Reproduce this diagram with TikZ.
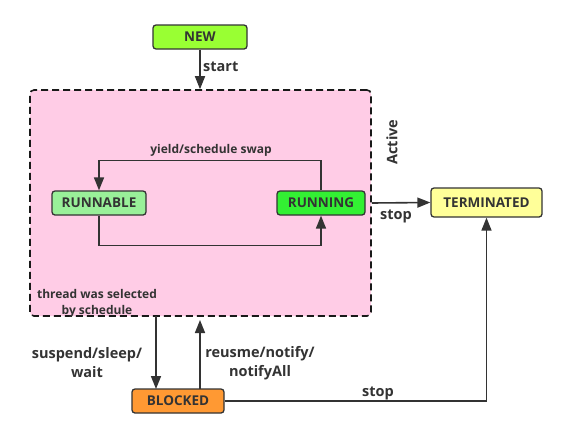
\documentclass[tikz,border=0pt]{standalone}
\usepackage{fontspec}
\setmainfont{Open Sans}
\usetikzlibrary{arrows.meta}
\definecolor{txt}{HTML}{333333}
\definecolor{newc}{HTML}{99FF33}
\definecolor{runnablec}{HTML}{99F099}
\definecolor{runningc}{HTML}{33F033}
\definecolor{termc}{HTML}{FFFF99}
\definecolor{blockc}{HTML}{FF9933}
\definecolor{pinkc}{HTML}{FFCCE6}
\tikzset{
  state/.style={draw=txt, line width=1.3pt, rounded corners=3pt, text=txt,
    font=\fontsize{13.5}{15}\selectfont\bfseries, inner sep=0pt, minimum height=24pt},
  arr/.style={draw=txt, line width=1.6pt, -{Triangle[length=13pt,width=10pt]}},
  lbl/.style={text=txt, font=\fontsize{14.5}{19}\selectfont\bfseries, inner sep=0pt, align=center},
  slbl/.style={text=txt, font=\fontsize{12}{16}\selectfont\bfseries, inner sep=0pt, align=center},
}
\begin{document}
\begin{tikzpicture}[x=1pt,y=-1pt]
\useasboundingbox (0,0) rectangle (566,437);
\node[draw=black!90, fill=pinkc, dash pattern=on 7pt off 4pt, line width=1.6pt, rounded corners=4pt,
  minimum width=341pt, minimum height=226pt, inner sep=0pt] (active) at (200.5,203) {};
\node[state, fill=newc, minimum width=94pt] (new) at (200,37) {NEW};
\node[state, fill=runnablec, minimum width=94pt] (runnable) at (99,203) {RUNNABLE};
\node[state, fill=runningc, minimum width=88pt] (running) at (321,203) {RUNNING};
\node[state, fill=termc, minimum width=111pt, minimum height=29pt] (term) at (486.5,202.5) {TERMINATED};
\node[state, fill=blockc, minimum width=92pt] (blocked) at (178,401) {BLOCKED};

\coordinate (supA) at (156,316);
\coordinate (supB) at (156,389);
\coordinate (resB) at (200,389);
\coordinate (resA) at (200,320);

\draw[arr] (new.south) -- (new.south |- active.north);
\draw[arr] (running.north) -- ++(0,-30) -| (runnable.north);
\draw[arr] (runnable.south) -- ++(0,30) -| (running.south);
\draw[arr] (active.east |- running) -- (term.west);
\draw[arr] (supA) -- (supB);
\draw[arr] (resB) -- (resA);
\draw[arr] (blocked.east) -| (term.south);

\node[lbl, anchor=west] (lstart) at (203,67) {start};
\node[slbl] (lyield) at (211,150) {yield/schedule swap};
\node[lbl, rotate=90] (lactive) at (392,142) {Active};
\node[lbl] (lstop1) at (396,216) {stop};
\node[slbl] (lsel) at (97,303) {thread was selected\\by schedule};
\node[lbl] (lsus) at (87,363) {suspend/sleep/\\wait};
\node[lbl] (lres) at (260,363) {reusme/notify/\\notifyAll};
\node[lbl] (lstop2) at (378,393) {stop};
\end{tikzpicture}
\end{document}
